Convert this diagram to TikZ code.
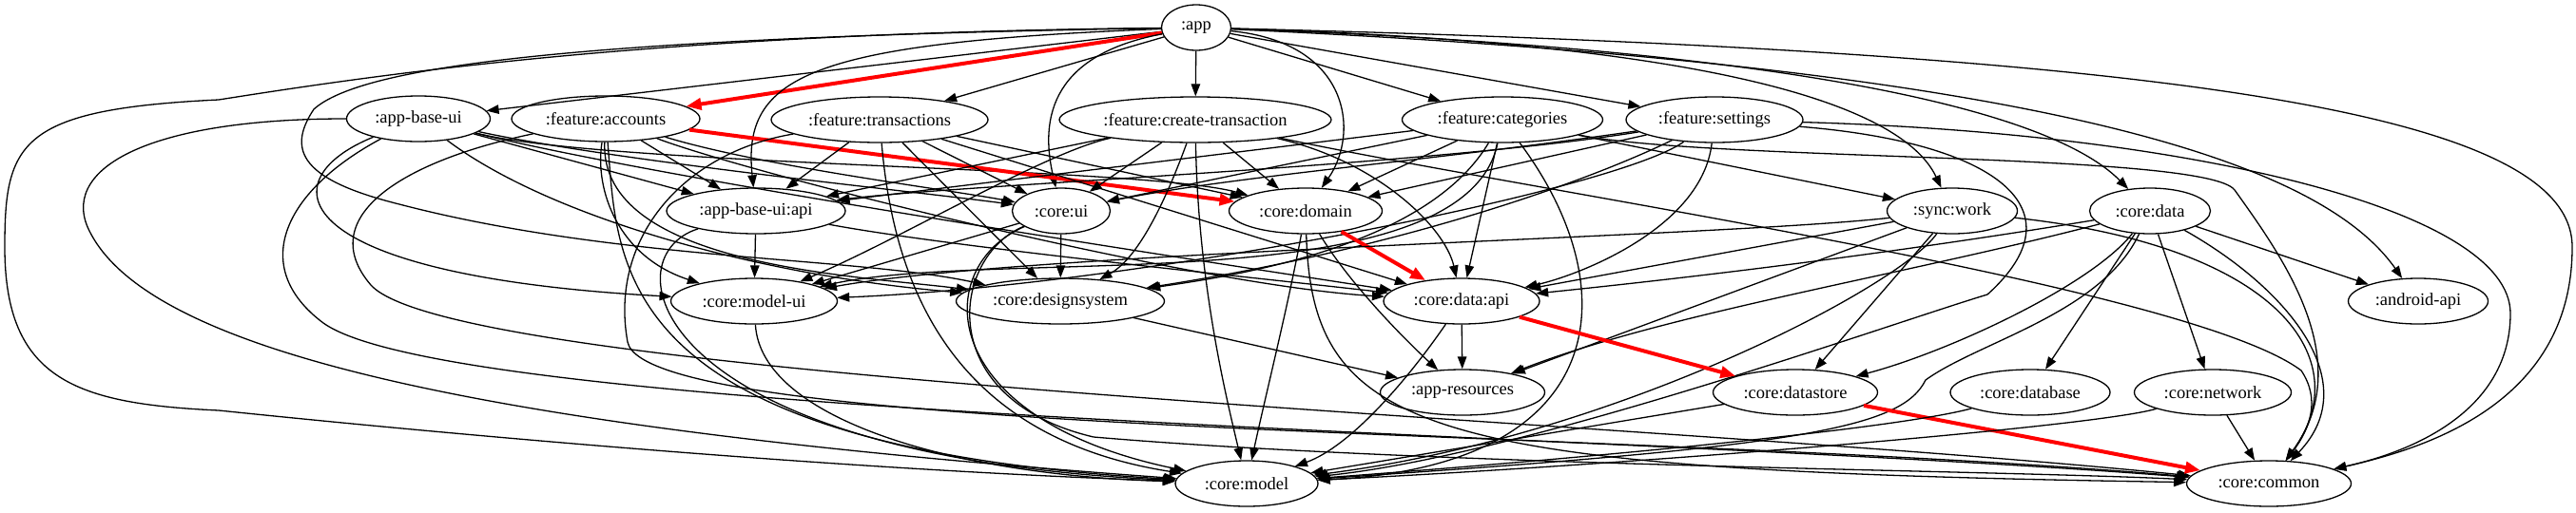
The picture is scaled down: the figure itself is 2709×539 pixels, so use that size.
\documentclass[tikz,border=0pt]{standalone}
\usepackage{fontspec}
\setmainfont{Liberation Serif}
\usepackage{tikz}
\usetikzlibrary{shapes.geometric, arrows.meta}
\definecolor{edgeblack}{RGB}{0,0,0}
\definecolor{pathred}{RGB}{255,0,0}

\begin{document}
\begin{tikzpicture}[
    x=1pt, y=-1pt,
    mod/.style={ellipse, draw=edgeblack, line width=1.3pt, inner sep=0pt,
                minimum height=48pt, font=\fontsize{18.5}{20}\selectfont},
    dep/.style={-{Triangle[length=13pt, width=9.5pt]}, line width=1.3pt, color=edgeblack},
    hot/.style={-{Triangle[length=16pt, width=12pt]}, line width=4pt, color=pathred}
]
\useasboundingbox (0,0) rectangle (2709,539);

% App
\node[mod, minimum width=73pt] (app) at (1258,29) {:app};

% Features
\node[mod, minimum width=151pt] (appbaseui) at (440,125) {:app-base-ui};
\node[mod, minimum width=198pt] (accounts) at (637,125) {:feature:accounts};
\node[mod, minimum width=228pt] (transactions) at (925,126) {:feature:transactions};
\node[mod, minimum width=286pt] (createtx) at (1257,126) {:feature:create-transaction};
\node[mod, minimum width=211pt] (categories) at (1580,126) {:feature:categories};
\node[mod, minimum width=186pt] (settings) at (1803,126) {:feature:settings};

% Core, upper
\node[mod, minimum width=188pt] (baseuiapi) at (795,222) {:app-base-ui:api};
\node[mod, minimum width=103pt] (coreui) at (1116,222) {:core:ui};
\node[mod, minimum width=161pt] (domain) at (1373,222) {:core:domain};
\node[mod, minimum width=137pt] (syncwork) at (2053,222) {:sync:work};
\node[mod, minimum width=127pt] (coredata) at (2261,222) {:core:data};

\node[mod, minimum width=175pt] (modelui) at (793,317) {:core:model-ui};
\node[mod, minimum width=219pt] (designsys) at (1115,317) {:core:designsystem};
\node[mod, minimum width=164pt] (dataapi) at (1537,317) {:core:data:api};
\node[mod, minimum width=147pt] (androidapi) at (2543,317) {:android-api};

% Core, lower
\node[mod, minimum width=173pt] (appres) at (1538,413) {:app-resources};
\node[mod, minimum width=173pt] (datastore) at (1888,413) {:core:datastore};
\node[mod, minimum width=168pt] (database) at (2135,413) {:core:database};
\node[mod, minimum width=165pt] (network) at (2327,413) {:core:network};

\node[mod, minimum width=150pt] (model) at (1311,509) {:core:model};
\node[mod, minimum width=173pt] (common) at (2386,509) {:core:common};

% :app
\draw[dep] (app) -- (appbaseui);
\draw[hot] (app) -- (accounts);
\draw[dep] (app) -- (transactions);
\draw[dep] (app) -- (createtx);
\draw[dep] (app) -- (categories);
\draw[dep] (app) -- (settings);
\draw[dep] (app) .. controls (850,45) and (780,80) .. (baseuiapi);
\draw[dep] (app) .. controls (1120,55) and (1090,110) .. (coreui);
\draw[dep] (app) .. controls (1420,45) and (1430,140) .. (domain);
\draw[dep] (app) .. controls (1800,45) and (2000,110) .. (syncwork);
\draw[dep] (app) .. controls (1850,50) and (2150,110) .. (coredata);
\draw[dep] (app) .. controls (2150,70) and (2440,170) .. (androidapi);
\draw[dep] (app) .. controls (600,40) and (380,70) .. (330,115) .. controls (300,160) and (320,190) .. (420,215)
    .. controls (650,275) and (900,270) .. (designsys);
\draw[dep] (app) .. controls (700,35) and (420,75) .. (230,105) .. controls (20,115) and (5,150) .. (5,260)
    .. controls (5,400) and (80,425) .. (230,432) .. controls (500,460) and (900,495) .. (model);
\draw[dep] (app) .. controls (2300,55) and (2705,120) .. (2705,260) .. controls (2705,420) and (2560,470) .. (common);

% :app-base-ui
\draw[dep] (appbaseui) -- (baseuiapi);
\draw[dep] (appbaseui) .. controls (650,170) and (950,200) .. (coreui);
\draw[dep] (appbaseui) .. controls (640,175) and (1200,175) .. (domain);
\draw[dep] (appbaseui) .. controls (700,190) and (1300,280) .. (dataapi);
\draw[dep] (appbaseui) .. controls (580,230) and (800,290) .. (designsys);
\draw[dep] (appbaseui) .. controls (280,190) and (300,290) .. (modelui);
\draw[dep] (appbaseui) .. controls (150,125) and (60,180) .. (95,245) .. controls (160,370) and (500,450) .. (model);
\draw[dep] (appbaseui) .. controls (300,200) and (260,280) .. (340,340) .. controls (480,440) and (1700,455) .. (common);

% :feature:accounts
\draw[dep] (accounts) -- (baseuiapi);
\draw[dep] (accounts) .. controls (800,175) and (1000,200) .. (coreui);
\draw[hot] (accounts) -- (domain);
\draw[dep] (accounts) .. controls (780,180) and (1250,300) .. (dataapi);
\draw[dep] (accounts) .. controls (630,280) and (900,290) .. (designsys);
\draw[dep] (accounts) .. controls (625,200) and (650,270) .. (modelui);
\draw[dep] (accounts) .. controls (650,280) and (640,470) .. (model);
\draw[dep] (accounts) .. controls (420,170) and (330,230) .. (390,300) .. controls (480,400) and (1700,440) .. (common);

% :feature:transactions
\draw[dep] (transactions) -- (baseuiapi);
\draw[dep] (transactions) -- (coreui);
\draw[dep] (transactions) -- (domain);
\draw[dep] (transactions) -- (dataapi);
\draw[dep] (transactions) -- (designsys);
\draw[dep] (transactions) .. controls (940,300) and (1000,460) .. (model);
\draw[dep] (transactions) .. controls (720,160) and (640,250) .. (660,360) .. controls (680,460) and (1700,450) .. (common);

% :feature:create-transaction
\draw[dep] (createtx) -- (baseuiapi);
\draw[dep] (createtx) -- (coreui);
\draw[dep] (createtx) -- (domain);
\draw[dep] (createtx) .. controls (1450,170) and (1520,240) .. (dataapi);
\draw[dep] (createtx) .. controls (1230,200) and (1200,270) .. (designsys);
\draw[dep] (createtx) .. controls (1100,160) and (950,250) .. (modelui);
\draw[dep] (createtx) .. controls (1260,300) and (1290,420) .. (model);
\draw[dep] (createtx) .. controls (1600,200) and (2300,300) .. (2420,390) .. controls (2440,420) and (2430,450) .. (common);

% :feature:categories
\draw[dep] (categories) -- (baseuiapi);
\draw[dep] (categories) -- (coreui);
\draw[dep] (categories) -- (domain);
\draw[dep] (categories) -- (dataapi);
\draw[dep] (categories) .. controls (1500,260) and (1300,290) .. (designsys);
\draw[dep] (categories) .. controls (1540,320) and (1050,260) .. (modelui);
\draw[dep] (categories) -- (syncwork);
\draw[dep] (categories) .. controls (1710,300) and (1700,490) .. (model);
\draw[dep] (categories) .. controls (1800,170) and (2320,160) .. (2350,200) .. controls (2400,270) and (2480,380) .. (common);

% :feature:settings
\draw[dep] (settings) .. controls (1500,175) and (1000,195) .. (baseuiapi);
\draw[dep] (settings) .. controls (1500,170) and (1300,185) .. (coreui);
\draw[dep] (settings) -- (domain);
\draw[dep] (settings) .. controls (1790,240) and (1660,290) .. (dataapi);
\draw[dep] (settings) .. controls (1650,200) and (1450,265) .. (designsys);
\draw[dep] (settings) .. controls (1700,200) and (1200,300) .. (modelui);
\draw[dep] (settings) .. controls (2100,150) and (2190,220) .. (2090,310) .. controls (1990,340) and (1600,480) .. (model);
\draw[dep] (settings) .. controls (2300,140) and (2640,220) .. (2640,330) .. controls (2640,420) and (2560,470) .. (common);

% :app-base-ui:api
\draw[dep] (baseuiapi) -- (modelui);
\draw[dep] (baseuiapi) .. controls (640,270) and (680,480) .. (model);
\draw[dep] (baseuiapi) .. controls (1000,260) and (1300,290) .. (dataapi);

% :core:ui
\draw[dep] (coreui) -- (designsys);
\draw[dep] (coreui) -- (modelui);
\draw[dep] (coreui) .. controls (980,280) and (980,440) .. (model);
\draw[dep] (coreui) .. controls (1000,270) and (980,420) .. (1150,460) .. controls (1500,490) and (2100,495) .. (common);

% :core:domain
\draw[hot] (domain) -- (dataapi);
\draw[dep] (domain) .. controls (1420,300) and (1480,360) .. (appres);
\draw[dep] (domain) .. controls (1355,320) and (1330,420) .. (model);
\draw[dep] (domain) .. controls (1380,460) and (1500,495) .. (common);

% :sync:work
\draw[dep] (syncwork) -- (dataapi);
\draw[dep] (syncwork) .. controls (1800,250) and (1080,265) .. (modelui);
\draw[dep] (syncwork) -- (appres);
\draw[dep] (syncwork) -- (datastore);
\draw[dep] (syncwork) .. controls (2000,300) and (1700,460) .. (model);
\draw[dep] (syncwork) .. controls (2400,260) and (2480,380) .. (common);

% :core:data
\draw[dep] (coredata) .. controls (2000,265) and (1800,290) .. (dataapi);
\draw[dep] (coredata) .. controls (2000,290) and (1750,330) .. (appres);
\draw[dep] (coredata) .. controls (2200,300) and (2050,370) .. (datastore);
\draw[dep] (coredata) -- (database);
\draw[dep] (coredata) -- (network);
\draw[dep] (coredata) -- (androidapi);
\draw[dep] (coredata) .. controls (2210,330) and (2080,360) .. (2025,400) .. controls (2000,450) and (1900,470) .. (model);
\draw[dep] (coredata) .. controls (2400,300) and (2490,400) .. (common);

% Lower rows
\draw[dep] (modelui) .. controls (800,440) and (1000,500) .. (model);
\draw[dep] (designsys) -- (appres);
\draw[dep] (dataapi) -- (appres);
\draw[hot] (dataapi) -- (datastore);
\draw[dep] (dataapi) .. controls (1480,400) and (1420,470) .. (model);
\draw[hot] (datastore) -- (common);
\draw[dep] (datastore) -- (model);
\draw[dep] (database) .. controls (2000,450) and (1700,480) .. (model);
\draw[dep] (network) -- (common);
\draw[dep] (network) .. controls (2200,450) and (1700,490) .. (model);

\end{tikzpicture}
\end{document}
